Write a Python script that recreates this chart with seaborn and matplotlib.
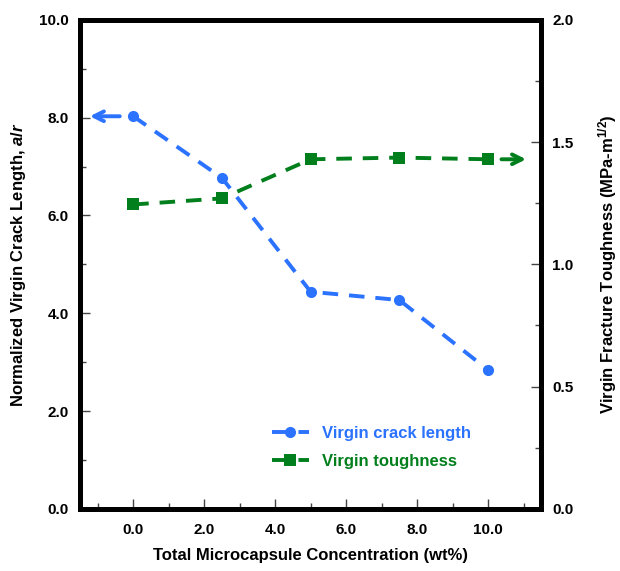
import numpy as np
import pandas as pd
import matplotlib
matplotlib.use("Agg")
import matplotlib.pyplot as plt
import seaborn as sns

# data
conc = [0.0, 2.5, 5.0, 7.5, 10.0]
crack_length = [8.03, 6.77, 4.44, 4.27, 2.84]
toughness = [1.245, 1.27, 1.43, 1.437, 1.43]

blue = "#2B72FF"
green = "#007F1C"

sns.set_style("ticks")
plt.rcParams["font.family"] = ["Liberation Sans", "DejaVu Sans"]
plt.rcParams["font.weight"] = "bold"
plt.rcParams["text.color"] = "black"
plt.rcParams["axes.labelcolor"] = "black"
plt.rcParams["xtick.color"] = "black"
plt.rcParams["ytick.color"] = "black"
plt.rcParams["axes.edgecolor"] = "black"
plt.rcParams["mathtext.fontset"] = "custom"
plt.rcParams["mathtext.rm"] = "Liberation Sans:bold"
plt.rcParams["mathtext.it"] = "Liberation Sans:italic:bold"

df = pd.DataFrame({"conc": conc, "crack": crack_length, "tough": toughness})

fig, ax = plt.subplots(figsize=(6.2, 5.71), dpi=100)
ax2 = ax.twinx()

sns.lineplot(data=df, x="conc", y="crack", ax=ax, color=blue, marker="o",
             markersize=8, markeredgewidth=0, linewidth=2.8, dashes=False,
             label="Virgin crack length", legend=False)
sns.lineplot(data=df, x="conc", y="tough", ax=ax2, color=green, marker="s",
             markersize=8, markeredgewidth=0, linewidth=2.8, dashes=False,
             label="Virgin toughness", legend=False)
for l in ax.lines + ax2.lines:
    l.set_dashes((4, 2.8))

ax.set_xlim(-1.5, 11.5)
ax.set_ylim(0, 10)
ax2.set_ylim(0, 2)
ax.set_xticks(np.arange(0, 10.1, 2))
ax.set_xticks(np.arange(-1, 11.1, 1), minor=True)
ax.set_yticks(np.arange(0, 10.1, 2))
ax.set_yticks(np.arange(0, 10.1, 1), minor=True)
ax2.set_yticks(np.arange(0, 2.01, 0.5))
ax2.set_yticks(np.arange(0, 2.01, 0.25), minor=True)
ax.xaxis.set_major_formatter(matplotlib.ticker.FormatStrFormatter("%.1f"))
ax.yaxis.set_major_formatter(matplotlib.ticker.FormatStrFormatter("%.1f"))
ax2.yaxis.set_major_formatter(matplotlib.ticker.FormatStrFormatter("%.1f"))

for a in (ax, ax2):
    a.tick_params(which="both", direction="in", labelsize=11, width=1,
                  color="#444444")
    a.tick_params(which="major", length=7)
    a.tick_params(which="minor", length=4)
    for s in a.spines.values():
        s.set_linewidth(3.5)
        s.set_color("black")
        s.set_visible(True)
    for t in a.get_xticklabels() + a.get_yticklabels():
        t.set_fontweight("bold")
ax.tick_params(axis="x", pad=10)
ax2.tick_params(axis="y", pad=8)
ax.tick_params(axis="y", pad=8)

ax.set_xlabel("Total Microcapsule Concentration (wt%)", fontsize=12,
              fontweight="bold", labelpad=8)
ax.set_ylabel(r"Normalized Virgin Crack Length, $\mathit{a/r}$", fontsize=12,
              fontweight="bold", labelpad=8)
ax2.set_ylabel(r"Virgin Fracture Toughness (MPa-m$^{1/2}$)", fontsize=12,
               fontweight="bold", labelpad=16)

# arrows pointing to the matching axis
ax.annotate("", xy=(-1.3, crack_length[0]), xytext=(-0.3, crack_length[0]),
            arrowprops=dict(arrowstyle="->,head_length=0.7,head_width=0.35",
                            color=blue, lw=2.8))
ax2.annotate("", xy=(11.15, toughness[-1]), xytext=(10.3, toughness[-1]),
             arrowprops=dict(arrowstyle="->,head_length=0.7,head_width=0.35",
                             color=green, lw=2.8))

h1, l1 = ax.get_legend_handles_labels()
h2, l2 = ax2.get_legend_handles_labels()
leg = ax.legend(h1 + h2, l1 + l2, loc="lower right",
                bbox_to_anchor=(0.88, 0.05), frameon=False, fontsize=12,
                handlelength=2.2, labelspacing=0.8)
for t, c in zip(leg.get_texts(), (blue, green)):
    t.set_color(c)
    t.set_fontweight("bold")

fig.subplots_adjust(left=0.129, right=0.873, top=0.965, bottom=0.109)
fig.savefig("out.png", dpi=100)
